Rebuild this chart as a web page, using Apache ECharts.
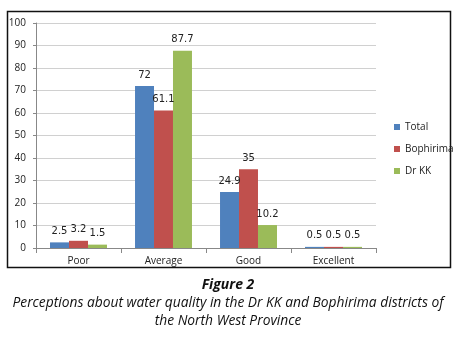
<!DOCTYPE html>
<html>
<head>
<meta charset="utf-8">
<script src="https://cdn.jsdelivr.net/npm/echarts@6/dist/echarts.min.js"></script>
<style>
  html, body { margin: 0; padding: 0; background: #fff; }
  #chart { width: 455px; height: 339px; }
</style>
</head>
<body>
<div id="chart"></div>
<script>
const categories = ["Poor", "Average", "Good", "Excellent"];
const seriesNames = ["Total", "Bophirima", "Dr KK"];
const totalValues = [2.5, 72, 24.9, 0.5];
const bophirimaValues = [3.2, 61.1, 35, 0.5];
const drkkValues = [1.5, 87.7, 10.2, 0.5];
const colors = ["#4F81BD", "#C0504D", "#9BBB59"];

const chart = echarts.init(document.getElementById("chart"));

function makeSeries(name, data, color) {
  return {
    name: name,
    type: "bar",
    data: data,
    barGap: "0%",
    barCategoryGap: "33%",
    itemStyle: { color: color },
    label: {
      show: true,
      position: "top",
      distance: 6,
      color: "#222",
      fontSize: 10,
      fontFamily: "DejaVu Sans",
    },
  };
}

chart.setOption({
  animation: false,
  grid: { left: 36, right: 79, top: 23, bottom: 91 },
  legend: {
    orient: "vertical",
    left: 389,
    top: 117,
    itemWidth: 6,
    itemHeight: 6,
    itemGap: 12,
    icon: "rect",
    textStyle: { fontSize: 10, color: "#222", fontFamily: "Open Sans" },
    data: seriesNames,
  },
  xAxis: {
    type: "category",
    data: categories,
    axisTick: { show: true, lineStyle: { color: "#888" } },
    axisLine: { lineStyle: { color: "#888" } },
    axisLabel: { color: "#222", fontSize: 10, fontFamily: "Open Sans", margin: 8 },
  },
  yAxis: {
    type: "value",
    min: 0,
    max: 100,
    interval: 10,
    axisLine: { show: true, lineStyle: { color: "#888" } },
    axisTick: { show: true, length: 3, lineStyle: { color: "#888" } },
    axisLabel: { color: "#222", fontSize: 10, fontFamily: "Open Sans", margin: 10 },
    splitLine: { lineStyle: { color: "#d0d0d0", width: 1 } },
  },
  graphic: [
    {
      type: "rect",
      shape: { x: 7.5, y: 11.5, width: 443, height: 256 },
      style: { fill: "none", stroke: "#111", lineWidth: 1.5 },
      silent: true,
    },
    {
      type: "text",
      x: 228,
      y: 278,
      style: {
        text: "Figure 2",
        font: "italic bold 14px 'Open Sans'",
        fill: "#111",
        align: "center",
      },
    },
    {
      type: "text",
      x: 228,
      y: 296,
      style: {
        text: "Perceptions about water quality in the Dr KK and Bophirima districts of",
        font: "italic 13.8px 'Open Sans'",
        fill: "#111",
        align: "center",
      },
    },
    {
      type: "text",
      x: 228,
      y: 314,
      style: {
        text: "the North West Province",
        font: "italic 13.8px 'Open Sans'",
        fill: "#111",
        align: "center",
      },
    },
  ],
  series: [
    makeSeries(seriesNames[0], totalValues, colors[0]),
    makeSeries(seriesNames[1], bophirimaValues, colors[1]),
    makeSeries(seriesNames[2], drkkValues, colors[2]),
  ],
});
</script>
</body>
</html>
